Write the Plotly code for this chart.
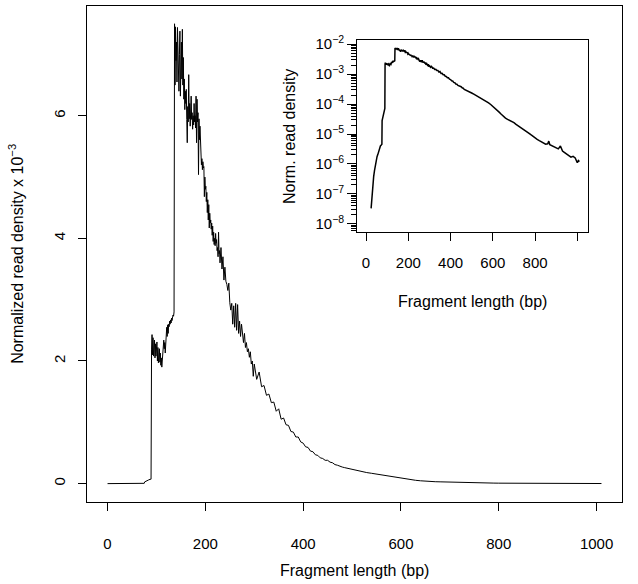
import plotly.graph_objects as go

FONT = "Liberation Sans, Arial, Helvetica, sans-serif"

# Fragment length (bp) and normalized read density in units of 1e-3.
# Onset: essentially zero on the linear scale, visible only on the log inset.
onset_len = [0, 5, 10, 15, 19, 20, 21, 23, 24, 27, 30, 33, 36, 40, 44, 48, 52, 56,
             60, 64, 68, 72, 75, 76, 78, 81, 84, 87, 89]
onset_dens = [0, 0, 0, 0, 0, 1e-5, 0, 0, 3.3e-5, 7e-5, 1.3e-4, 2.3e-4, 3.8e-4, 6e-4,
              9e-4, 1.35e-3, 1.75e-3, 2.1e-3, 2.7e-3, 3.3e-3, 4.0e-3, 4.3e-3, 4.6e-3,
              2.8e-2, 3.3e-2, 4.5e-2, 6.0e-2, 7.0e-2, 7.2e-2]

# Sub-nucleosomal plateau, 90-136 bp
plateau_len = list(range(90, 137))
plateau_dens = [2.18, 2.43, 2.10, 2.38, 2.08, 2.30, 2.34, 2.05, 2.28, 2.08,
                2.25, 2.31, 2.00, 2.22, 1.97, 2.12, 2.20, 1.98, 2.13, 1.93,
                2.05, 1.90, 2.00, 2.15, 2.10, 2.34, 2.20, 2.30, 2.13, 2.40,
                2.36, 2.55, 2.40, 2.59, 2.45, 2.60, 2.56, 2.65, 2.60, 2.67,
                2.62, 2.70, 2.66, 2.72, 2.75, 2.73, 2.80]

# Mono-nucleosome peak, 137-230 bp
peak_len = list(range(137, 231))
peak_dens = [7.50, 6.50, 7.45, 6.90, 7.20, 6.55, 7.44, 6.80, 7.10, 6.40,
             7.00, 7.38, 6.32, 6.90, 7.20, 6.60, 7.41, 6.50, 6.95, 6.27,
             6.60, 6.10, 6.40, 6.20, 6.43, 5.94, 5.56, 6.15, 5.90, 6.67,
             5.95, 6.20, 5.83, 6.10, 6.32, 5.94, 6.05, 5.78, 6.00, 5.85,
             6.20, 5.90, 6.00, 5.80, 6.32, 5.56, 6.27, 5.90, 6.05, 5.04,
             5.95, 5.61, 5.83, 5.40, 5.34, 5.20, 5.30, 5.12, 5.25, 5.15,
             5.17, 4.68, 5.00, 4.80, 4.85, 4.60, 4.75, 4.42, 4.63, 4.30,
             4.55, 4.17, 4.41, 4.25, 4.30, 4.15, 4.25, 4.05, 4.20, 3.95,
             4.10, 3.90, 4.00, 3.88, 4.08, 3.92, 3.98, 3.80, 3.85, 3.70,
             4.10, 3.75, 3.80, 3.60]

# Shoulder, 232-300 bp
shoulder_len = list(range(232, 301, 2))
shoulder_dens = [3.85, 3.50, 3.70, 3.32, 3.53, 3.30, 3.25, 3.15, 3.27, 2.95,
                 2.83, 2.94, 2.60, 2.90, 2.55, 2.94, 2.50, 2.92, 2.45, 2.65,
                 2.40, 2.60, 2.45, 2.30, 2.45, 2.22, 2.30, 2.15, 2.20, 2.06,
                 2.15, 1.95, 2.00, 1.75, 1.95]

# Decay, 305-495 bp
decay_len = list(range(305, 496, 5))
decay_dens = [1.70, 1.82, 1.58, 1.60, 1.44, 1.46, 1.32, 1.33, 1.18, 1.22,
              1.05, 1.07, 0.96, 0.95, 0.85, 0.84, 0.76, 0.76, 0.68, 0.66,
              0.60, 0.59, 0.53, 0.52, 0.47, 0.46, 0.42, 0.41, 0.38, 0.38,
              0.35, 0.34, 0.31, 0.30, 0.28, 0.27, 0.26, 0.25, 0.24]

# Long tail, 500-1010 bp
tail_len = [500, 510, 520, 530, 540, 550, 560, 570, 580, 590, 600, 610, 620, 630,
            640, 650, 660, 670, 680, 690, 700, 710, 720, 730, 740, 750, 760, 770,
            780, 790, 800, 810, 820, 830, 840, 850, 860, 865, 870, 880, 890, 900,
            910, 920, 925, 930, 940, 950, 960, 970, 980, 990, 1000, 1005, 1010]
tail_dens = [0.235, 0.215, 0.195, 0.18, 0.168, 0.155, 0.14, 0.125, 0.11, 0.097,
             0.085, 0.074, 0.064, 0.054, 0.046, 0.038, 0.034, 0.031, 0.029, 0.026,
             0.024, 0.021, 0.019, 0.017, 0.0155, 0.0138, 0.0122, 0.0108, 0.0095,
             0.0083, 0.0073, 0.0066, 0.006, 0.0055, 0.005, 0.0046, 0.0047, 0.0058,
             0.0044, 0.0041, 0.0037, 0.0034, 0.0032, 0.0040, 0.0030, 0.0027,
             0.0024, 0.0021, 0.0019, 0.0017, 0.0018, 0.0016, 0.0011, 0.0013, 0.0012]

x_ticks = [0, 200, 400, 600, 800, 1000]
inset_x_labels = ['0', '200', '400', '600', '800', '']
y_ticks = [0, 2, 4, 6]
log_ticks = [1e-8, 1e-7, 1e-6, 1e-5, 1e-4, 1e-3, 1e-2]
log_labels = ["10<sup>\u22128</sup>", "10<sup>\u22127</sup>", "10<sup>\u22126</sup>",
              "10<sup>\u22125</sup>", "10<sup>\u22124</sup>", "10<sup>\u22123</sup>",
              "10<sup>\u22122</sup>"]

segments = [(onset_len, onset_dens), (plateau_len, plateau_dens), (peak_len, peak_dens),
            (shoulder_len, shoulder_dens), (decay_len, decay_dens), (tail_len, tail_dens)]
frag_len, density = [], []
for xs, ys in segments:
    assert len(xs) == len(ys), (xs[0], len(xs), len(ys))
    frag_len += xs
    density += ys

# absolute density for the log inset; zeros cannot be drawn on a log axis
density_abs = [d * 1e-3 if d > 0 else None for d in density]

# minor ticks at 2..9 x 10^k for the log inset
minor_vals = [m * 10.0 ** e for e in range(-9, -1) for m in range(2, 10)]

X_RANGE = [-42, 1052]
LOG_RANGE = [-8.277, -1.867]

fig = go.Figure()

fig.add_trace(go.Scatter(
    x=frag_len, y=density, mode='lines',
    line=dict(color='black', width=1),
    xaxis='x', yaxis='y', showlegend=False,
    hovertemplate='%{x} bp: %{y:.3f}e-3<extra></extra>'
))

fig.add_trace(go.Scatter(
    x=frag_len, y=density_abs, mode='lines', connectgaps=False,
    line=dict(color='black', width=1.5),
    xaxis='x2', yaxis='y2', showlegend=False,
    hovertemplate='%{x} bp: %{y:.2e}<extra></extra>'
))

# empty trace so the minor-tick overlay axis gets drawn
fig.add_trace(go.Scatter(x=[], y=[], xaxis='x2', yaxis='y3',
                         showlegend=False, hoverinfo='skip'))

axis_common = dict(
    showline=True, mirror=True, linecolor='black', linewidth=1,
    ticks='outside', tickcolor='black', tickwidth=1,
    showgrid=False, zeroline=False, automargin=False,
    tickfont=dict(family=FONT, size=15, color='black'),
)

fig.update_layout(
    width=638, height=584,
    margin=dict(l=87, r=16, t=6, b=82),
    paper_bgcolor='white', plot_bgcolor='white',
    font=dict(family=FONT, size=15, color='black'),
    xaxis=dict(axis_common, domain=[0, 1], range=X_RANGE,
               tickvals=x_ticks, ticklen=8, ticklabelstandoff=20),
    yaxis=dict(axis_common, domain=[0, 1], range=[-0.30, 7.79],
               tickvals=y_ticks, tickangle=-90, ticklen=8, ticklabelstandoff=7),
    xaxis2=dict(axis_common, domain=[0.505, 0.937], anchor='y2', range=X_RANGE,
                tickvals=x_ticks, ticktext=inset_x_labels,
                ticklen=8, ticklabelstandoff=9),
    yaxis2=dict(axis_common, domain=[0.544, 0.931], anchor='x2', type='log',
                range=LOG_RANGE, tickvals=log_ticks, ticktext=log_labels,
                ticklen=9, ticklabelstandoff=0),
    yaxis3=dict(overlaying='y2', anchor='x2', side='left', type='log',
                range=LOG_RANGE, tickvals=minor_vals, ticktext=[''] * len(minor_vals),
                ticks='outside', ticklen=5, tickcolor='black', tickwidth=1,
                showline=False, showgrid=False, zeroline=False, automargin=False),
    annotations=[
        dict(text='Fragment length (bp)', xref='paper', yref='paper',
             x=0.5, y=-0.139, xanchor='center', yanchor='middle',
             showarrow=False, font=dict(size=16)),
        dict(text='Normalized read density x 10<sup>\u22123</sup>', xref='paper', yref='paper',
             x=-0.133, y=0.5, xanchor='center', yanchor='middle', textangle=-90,
             showarrow=False, font=dict(size=16)),
        dict(text='Fragment length (bp)', xref='paper', yref='paper',
             x=0.721, y=0.404, xanchor='center', yanchor='middle',
             showarrow=False, font=dict(size=16)),
        dict(text='Norm. read density', xref='paper', yref='paper',
             x=0.3794, y=0.738, xanchor='center', yanchor='middle', textangle=-90,
             showarrow=False, font=dict(size=16)),
    ],
)

# drop the default page margin so the figure sits at the top-left corner
fig.write_html("out.html", config={'displayModeBar': False},
               post_script="document.body.style.margin='0';")
